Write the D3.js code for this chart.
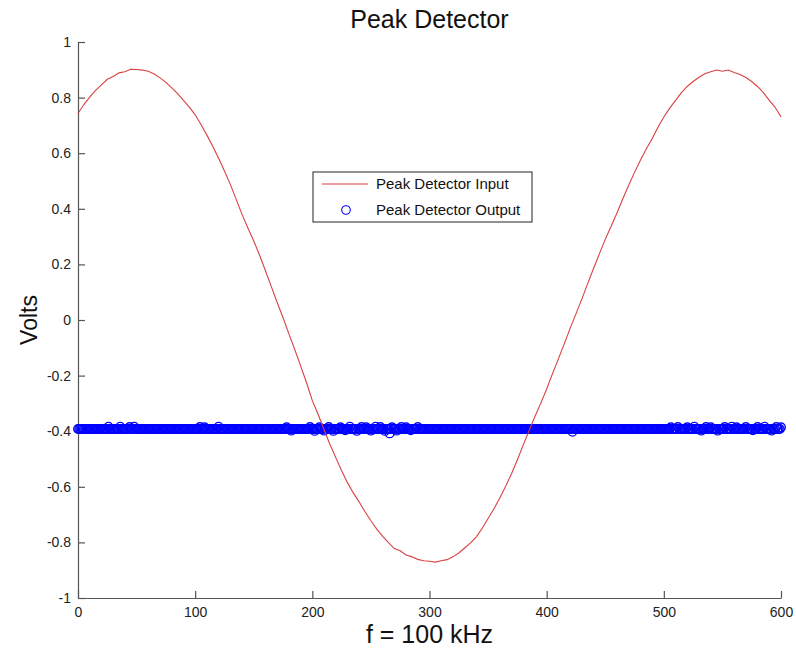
<!DOCTYPE html>
<html lang="en">
<head>
    <meta charset="UTF-8">
    <title>Peak Detector</title>
    <script src="https://d3js.org/d3.v7.min.js"></script>
    <style>
        body { margin: 0; background: #fff; }
    </style>
</head>
<body>
    <svg width="796" height="650"></svg>

    <script>
        // Input signal, read every 5 units along x
        const inputX = d3.range(0, 601, 5);
        const inputV = [
            0.743, 0.775, 0.802, 0.826, 0.846, 0.866, 0.876, 0.889, 0.893, 0.902,
            0.901, 0.899, 0.895, 0.885, 0.871, 0.855, 0.835, 0.814, 0.790, 0.766,
            0.738, 0.703, 0.665, 0.625, 0.582, 0.536, 0.488, 0.434, 0.380, 0.331,
            0.284, 0.233, 0.177, 0.120, 0.063, 0.008, -0.050, -0.106, -0.165, -0.225,
            -0.290, -0.340, -0.395, -0.447, -0.495, -0.542, -0.585, -0.622, -0.655, -0.690,
            -0.722, -0.752, -0.778, -0.801, -0.822, -0.830, -0.845, -0.852, -0.861, -0.866,
            -0.868, -0.871, -0.866, -0.862, -0.852, -0.838, -0.820, -0.802, -0.780, -0.749,
            -0.714, -0.679, -0.640, -0.598, -0.553, -0.503, -0.450, -0.398, -0.347, -0.299,
            -0.248, -0.193, -0.140, -0.086, -0.030, 0.022, 0.075, 0.131, 0.185, 0.238,
            0.290, 0.337, 0.385, 0.436, 0.485, 0.531, 0.575, 0.615, 0.652, 0.693,
            0.730, 0.762, 0.790, 0.818, 0.840, 0.858, 0.873, 0.886, 0.893, 0.899,
            0.895, 0.899, 0.890, 0.883, 0.872, 0.858, 0.840, 0.818, 0.790, 0.765,
            0.730
        ];

        // Output samples, one per unit along x (20 per row)
        const outputX = d3.range(0, 601, 1);
        const outputV = [
            -0.392,-0.392,-0.392,-0.392,-0.392,-0.392,-0.392,-0.392,-0.392,-0.392,-0.392,-0.392,-0.392,-0.392,-0.392,-0.392,-0.392,-0.392,-0.392,-0.392,
            -0.392,-0.392,-0.392,-0.392,-0.392,-0.392,-0.384,-0.392,-0.392,-0.392,-0.392,-0.392,-0.392,-0.392,-0.392,-0.392,-0.384,-0.392,-0.392,-0.392,
            -0.392,-0.392,-0.392,-0.392,-0.385,-0.392,-0.392,-0.392,-0.384,-0.392,-0.392,-0.392,-0.392,-0.392,-0.392,-0.392,-0.392,-0.392,-0.392,-0.392,
            -0.392,-0.392,-0.392,-0.392,-0.392,-0.392,-0.392,-0.392,-0.392,-0.392,-0.392,-0.392,-0.392,-0.392,-0.392,-0.392,-0.392,-0.392,-0.392,-0.392,
            -0.392,-0.392,-0.392,-0.392,-0.392,-0.392,-0.392,-0.392,-0.392,-0.392,-0.392,-0.392,-0.392,-0.392,-0.392,-0.392,-0.392,-0.392,-0.392,-0.392,
            -0.392,-0.392,-0.392,-0.392,-0.385,-0.392,-0.392,-0.392,-0.386,-0.392,-0.392,-0.392,-0.392,-0.392,-0.392,-0.392,-0.392,-0.392,-0.392,-0.392,
            -0.384,-0.392,-0.392,-0.392,-0.392,-0.392,-0.392,-0.392,-0.392,-0.392,-0.392,-0.392,-0.392,-0.392,-0.392,-0.392,-0.392,-0.392,-0.392,-0.392,
            -0.392,-0.392,-0.392,-0.392,-0.392,-0.392,-0.392,-0.392,-0.392,-0.392,-0.392,-0.392,-0.392,-0.392,-0.392,-0.392,-0.392,-0.392,-0.392,-0.392,
            -0.392,-0.392,-0.392,-0.392,-0.392,-0.392,-0.392,-0.392,-0.392,-0.392,-0.392,-0.392,-0.392,-0.392,-0.392,-0.392,-0.392,-0.392,-0.386,-0.392,
            -0.392,-0.392,-0.398,-0.392,-0.392,-0.392,-0.392,-0.392,-0.392,-0.392,-0.392,-0.392,-0.392,-0.392,-0.392,-0.392,-0.392,-0.392,-0.385,-0.392,
            -0.392,-0.392,-0.399,-0.392,-0.392,-0.392,-0.386,-0.392,-0.392,-0.392,-0.398,-0.392,-0.392,-0.392,-0.385,-0.392,-0.392,-0.392,-0.399,-0.392,
            -0.392,-0.392,-0.392,-0.392,-0.386,-0.392,-0.392,-0.392,-0.397,-0.392,-0.392,-0.392,-0.384,-0.392,-0.392,-0.392,-0.392,-0.392,-0.399,-0.392,
            -0.392,-0.392,-0.385,-0.392,-0.392,-0.392,-0.386,-0.392,-0.392,-0.392,-0.398,-0.392,-0.392,-0.392,-0.384,-0.392,-0.392,-0.392,-0.385,-0.392,
            -0.392,-0.392,-0.399,-0.392,-0.392,-0.392,-0.408,-0.392,-0.386,-0.392,-0.392,-0.392,-0.398,-0.392,-0.392,-0.392,-0.385,-0.392,-0.392,-0.392,
            -0.386,-0.392,-0.392,-0.392,-0.397,-0.392,-0.392,-0.392,-0.392,-0.392,-0.385,-0.392,-0.392,-0.392,-0.392,-0.392,-0.392,-0.392,-0.392,-0.392,
            -0.392,-0.392,-0.392,-0.392,-0.392,-0.392,-0.392,-0.392,-0.392,-0.392,-0.392,-0.392,-0.392,-0.392,-0.392,-0.392,-0.392,-0.392,-0.392,-0.392,
            -0.392,-0.392,-0.392,-0.392,-0.392,-0.392,-0.392,-0.392,-0.392,-0.392,-0.392,-0.392,-0.392,-0.392,-0.392,-0.392,-0.392,-0.392,-0.392,-0.392,
            -0.392,-0.392,-0.392,-0.392,-0.392,-0.392,-0.392,-0.392,-0.392,-0.392,-0.392,-0.392,-0.392,-0.392,-0.392,-0.392,-0.392,-0.392,-0.392,-0.392,
            -0.392,-0.392,-0.392,-0.392,-0.392,-0.392,-0.392,-0.392,-0.392,-0.392,-0.392,-0.392,-0.392,-0.392,-0.392,-0.392,-0.392,-0.392,-0.392,-0.392,
            -0.392,-0.392,-0.392,-0.392,-0.392,-0.392,-0.392,-0.392,-0.392,-0.392,-0.392,-0.392,-0.392,-0.392,-0.392,-0.392,-0.392,-0.392,-0.392,-0.392,
            -0.392,-0.392,-0.392,-0.392,-0.392,-0.392,-0.392,-0.392,-0.392,-0.392,-0.392,-0.392,-0.392,-0.392,-0.392,-0.392,-0.392,-0.392,-0.392,-0.392,
            -0.392,-0.392,-0.402,-0.392,-0.392,-0.392,-0.392,-0.392,-0.392,-0.392,-0.392,-0.392,-0.392,-0.392,-0.392,-0.392,-0.392,-0.392,-0.392,-0.392,
            -0.392,-0.392,-0.392,-0.392,-0.392,-0.392,-0.392,-0.392,-0.392,-0.392,-0.392,-0.392,-0.392,-0.392,-0.392,-0.392,-0.392,-0.392,-0.392,-0.392,
            -0.392,-0.392,-0.392,-0.392,-0.392,-0.392,-0.392,-0.392,-0.392,-0.392,-0.392,-0.392,-0.392,-0.392,-0.392,-0.392,-0.392,-0.392,-0.392,-0.392,
            -0.392,-0.392,-0.392,-0.392,-0.392,-0.392,-0.392,-0.392,-0.392,-0.392,-0.392,-0.392,-0.392,-0.392,-0.392,-0.392,-0.392,-0.392,-0.392,-0.392,
            -0.392,-0.392,-0.392,-0.392,-0.392,-0.392,-0.386,-0.392,-0.392,-0.392,-0.392,-0.392,-0.385,-0.392,-0.392,-0.392,-0.392,-0.392,-0.392,-0.392,
            -0.386,-0.392,-0.392,-0.392,-0.392,-0.392,-0.384,-0.392,-0.392,-0.392,-0.392,-0.392,-0.398,-0.392,-0.392,-0.392,-0.385,-0.392,-0.392,-0.392,
            -0.386,-0.392,-0.392,-0.392,-0.392,-0.392,-0.398,-0.392,-0.392,-0.392,-0.392,-0.392,-0.385,-0.392,-0.392,-0.392,-0.392,-0.392,-0.384,-0.392,
            -0.392,-0.392,-0.386,-0.392,-0.392,-0.392,-0.392,-0.392,-0.392,-0.392,-0.385,-0.392,-0.392,-0.392,-0.392,-0.392,-0.397,-0.392,-0.392,-0.392,
            -0.385,-0.392,-0.392,-0.392,-0.392,-0.392,-0.384,-0.392,-0.392,-0.392,-0.392,-0.392,-0.398,-0.392,-0.392,-0.392,-0.385,-0.392,-0.392,-0.392,
            -0.386
        ];

        const xTicks = [0, 100, 200, 300, 400, 500, 600];
        const yTicks = [-1, -0.8, -0.6, -0.4, -0.2, 0, 0.2, 0.4, 0.6, 0.8, 1];
        const seriesNames = ["Peak Detector Input", "Peak Detector Output"];

        const width = 796;
        const height = 650;
        const margin = {top: 42, right: 15, bottom: 52, left: 78};
        const font = "'Liberation Sans', Arial, Helvetica, sans-serif";
        const red = "#db4040";
        const blue = "#0000ff";

        const svg = d3.select("svg")
            .attr("width", width)
            .attr("height", height)
            .style("font-family", font);

        svg.append("rect")
            .attr("width", width)
            .attr("height", height)
            .attr("fill", "#fff");

        const x = d3.scaleLinear()
            .domain([0, 600])
            .range([margin.left, width - margin.right]);

        const y = d3.scaleLinear()
            .domain([-1, 1])
            .range([height - margin.bottom, margin.top]);

        // axes with inward ticks, no box
        const xAxis = svg.append("g")
            .attr("transform", `translate(0,${height - margin.bottom})`)
            .call(d3.axisBottom(x)
                .tickValues(xTicks)
                .tickSizeInner(-7)
                .tickSizeOuter(0)
                .tickPadding(9))
            .attr("font-family", font)
            .attr("font-size", 14);

        const yAxis = svg.append("g")
            .attr("transform", `translate(${margin.left},0)`)
            .call(d3.axisLeft(y)
                .tickValues(yTicks)
                .tickSizeInner(-7)
                .tickSizeOuter(0)
                .tickPadding(7)
                .tickFormat(d => String(+d.toFixed(1))))
            .attr("font-family", font)
            .attr("font-size", 14);

        [xAxis, yAxis].forEach(g => {
            g.selectAll("path, line").attr("stroke", "#555").attr("stroke-width", 1.2);
            g.selectAll("text").attr("fill", "#222");
        });

        // output markers
        svg.append("g")
            .selectAll("circle")
            .data(outputX.map((d, i) => [d, outputV[i]]))
            .enter()
            .append("circle")
            .attr("cx", d => x(d[0]))
            .attr("cy", d => y(d[1]))
            .attr("r", 4.3)
            .attr("fill", "none")
            .attr("stroke", blue)
            .attr("stroke-width", 1.3);

        // input trace
        const line = d3.line()
            .x(d => x(d[0]))
            .y(d => y(d[1]));

        svg.append("path")
            .datum(inputX.map((d, i) => [d, inputV[i]]))
            .attr("d", line)
            .attr("fill", "none")
            .attr("stroke", red)
            .attr("stroke-width", 1.1);

        // title and labels
        svg.append("text")
            .attr("text-anchor", "middle")
            .attr("x", (x(0) + x(600)) / 2)
            .attr("y", 28)
            .attr("font-size", 25)
            .attr("fill", "#111")
            .text("Peak Detector");

        svg.append("text")
            .attr("text-anchor", "middle")
            .attr("x", (x(0) + x(600)) / 2)
            .attr("y", 643)
            .attr("font-size", 25)
            .attr("fill", "#111")
            .text("f = 100 kHz");

        svg.append("text")
            .attr("text-anchor", "middle")
            .attr("transform", `translate(37,${y(0)}) rotate(-90)`)
            .attr("font-size", 23)
            .attr("fill", "#111")
            .text("Volts");

        // legend
        const legend = svg.append("g").attr("transform", "translate(313,172)");
        legend.append("rect")
            .attr("width", 219)
            .attr("height", 50)
            .attr("fill", "#fff")
            .attr("stroke", "#222")
            .attr("stroke-width", 1);

        legend.append("line")
            .attr("x1", 9).attr("x2", 55)
            .attr("y1", 12).attr("y2", 12)
            .attr("stroke", red)
            .attr("stroke-width", 1.2);

        legend.append("circle")
            .attr("cx", 33).attr("cy", 38)
            .attr("r", 4.3)
            .attr("fill", "none")
            .attr("stroke", blue)
            .attr("stroke-width", 1.1);

        legend.selectAll("text.item")
            .data(seriesNames)
            .enter()
            .append("text")
            .attr("class", "item")
            .attr("x", 63)
            .attr("y", (d, i) => 17 + i * 26)
            .attr("font-size", 15)
            .attr("fill", "#111")
            .text(d => d);
    </script>
</body>
</html>
